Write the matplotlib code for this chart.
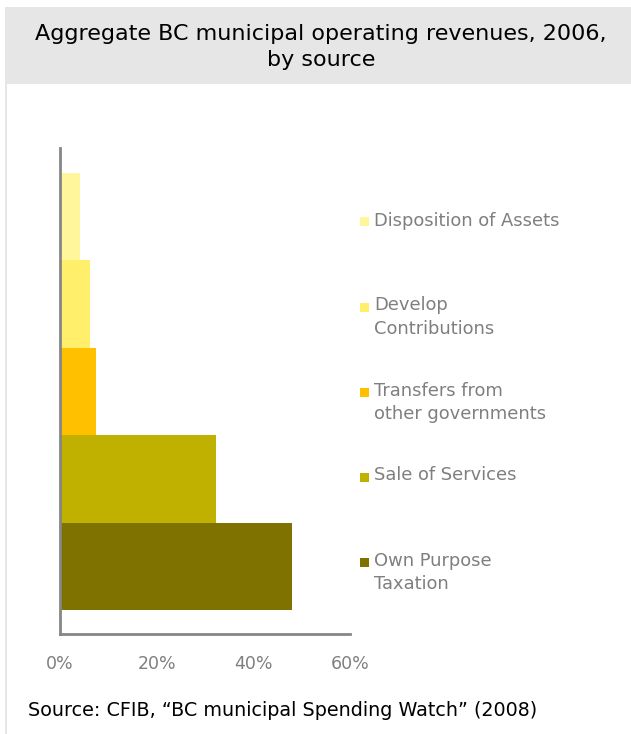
import matplotlib.pyplot as plt
from matplotlib.patches import Rectangle

# data, bottom to top
sources = ['Own Purpose\nTaxation', 'Sale of Services', 'Transfers from\nother governments',
           'Develop\nContributions', 'Disposition of Assets']
shares = [48.0, 32.2, 7.4, 6.2, 4.1]
colors = ['#7F7200', '#C0B000', '#FFC000', '#FFEF6A', '#FFF59A']
ticks = [0, 20, 40, 60]
tick_labels = ['0%', '20%', '40%', '60%']

W, H = 631, 734
fig = plt.figure(figsize=(W / 100, H / 100), dpi=100)
plt.rcParams['font.family'] = ['DejaVu Sans']

# header band and left border
fig.patches.append(Rectangle((5 / W, 1 - 84 / H), 1, 77 / H, transform=fig.transFigure,
                             facecolor='#E6E6E6', edgecolor='none'))
fig.patches.append(Rectangle((5 / W, 0), 2 / W, 1 - 84 / H, transform=fig.transFigure,
                             facecolor='#E6E6E6', edgecolor='none'))
fig.text(321 / W, 1 - 47 / H, 'Aggregate BC municipal operating revenues, 2006,\nby source',
         ha='center', va='center', fontsize=16, color='black', linespacing=1.4)

ax = fig.add_axes([60 / W, 1 - 634 / H, 290 / W, (634 - 148) / H])
y = list(range(len(sources)))
ax.barh(y, shares, height=1.0, color=colors)
ax.set_xlim(0, 60)
ax.set_ylim(-0.77, 4.78)
ax.set_xticks(ticks)
ax.set_xticklabels(tick_labels, color='#7F7F7F', fontsize=12.5)
ax.tick_params(axis='x', length=0, pad=15)
ax.set_yticks([])
for s in ['top', 'right']:
    ax.spines[s].set_visible(False)
for s in ['left', 'bottom']:
    ax.spines[s].set_color('#868686')
    ax.spines[s].set_linewidth(2)

# legend, drawn by hand so multi-line labels sit top-aligned with the marker
leg_top = 222
for i, (lab, c) in enumerate(zip(sources[::-1], colors[::-1])):
    yc = leg_top + i * 85
    fig.patches.append(Rectangle((360 / W, 1 - (yc + 4.5) / H), 9 / W, 9 / H,
                                 transform=fig.transFigure, facecolor=c, edgecolor='none'))
    fig.text(374 / W, 1 - (yc - 10.5) / H, lab, ha='left', va='top', fontsize=12.9,
             color='#7F7F7F', linespacing=1.4)

fig.text(28 / W, 1 - 711 / H, 'Source: CFIB, \u201cBC municipal Spending Watch\u201d (2008)',
         ha='left', va='center', fontsize=13.8, color='black')

fig.savefig('out.png', dpi=100)
